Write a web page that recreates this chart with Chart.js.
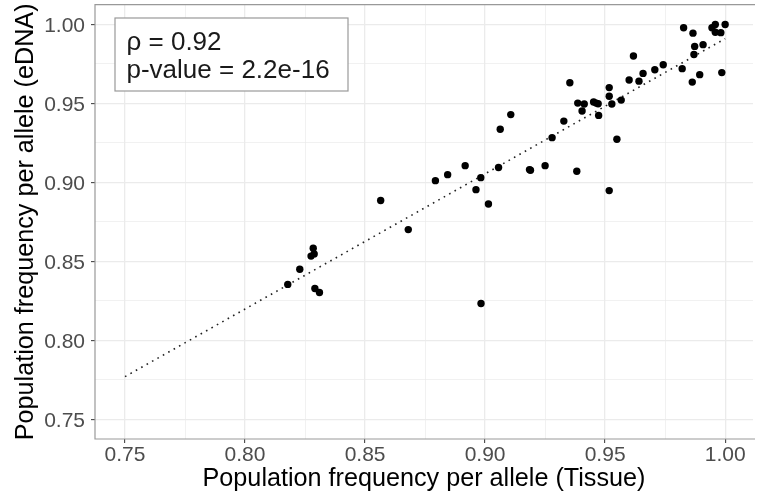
<!DOCTYPE html>
<html>
<head>
<meta charset="utf-8">
<script src="https://cdn.jsdelivr.net/npm/chart.js@4/dist/chart.umd.min.js"></script>
<style>
  html, body { margin: 0; padding: 0; background: #fff; overflow: hidden; }
  canvas { display: block; }
</style>
</head>
<body>
<canvas id="myChart" width="757" height="499"></canvas>
<script>
// allele frequencies
const tissueFreq = [0.8178, 0.8228, 0.8275, 0.8284, 0.8288, 0.8291, 0.8310, 0.8565, 0.8680, 0.8793,
  0.8844, 0.8917, 0.8962, 0.8982, 0.8983, 0.9014, 0.9056, 0.9063, 0.9107, 0.9185,
  0.9189, 0.9250, 0.9279, 0.9328, 0.9353, 0.9382, 0.9386, 0.9404, 0.9413, 0.9452,
  0.9463, 0.9471, 0.9473, 0.9517, 0.9517, 0.9528, 0.9517, 0.9549, 0.9567, 0.9600,
  0.9618, 0.9641, 0.9658, 0.9707, 0.9742, 0.9821, 0.9827, 0.9863, 0.9866, 0.9870,
  0.9873, 0.9894, 0.9908, 0.9945, 0.9959, 0.9959, 0.9982, 0.9986, 1.0000];
const ednaFreq = [0.8354, 0.8450, 0.8533, 0.8583, 0.8547, 0.8328, 0.8303, 0.8885, 0.8701, 0.9011,
  0.9049, 0.9106, 0.8954, 0.9030, 0.8233, 0.8863, 0.9094, 0.9336, 0.9429, 0.9081,
  0.9077, 0.9106, 0.9283, 0.9388, 0.9631, 0.9070, 0.9502, 0.9452, 0.9496, 0.9509,
  0.9502, 0.9498, 0.9424, 0.9600, 0.9545, 0.9496, 0.8948, 0.9273, 0.9521, 0.9648,
  0.9800, 0.9641, 0.9690, 0.9713, 0.9745, 0.9720, 0.9979, 0.9635, 0.9945, 0.9810,
  0.9861, 0.9682, 0.9872, 0.9979, 1.0000, 0.9951, 0.9948, 0.9695, 1.0000];

// dotted fit line ends
const fitX = [0.75, 1.00];
const fitY = [0.777, 0.991];

const majorTicks = [0.75, 0.80, 0.85, 0.90, 0.95, 1.00];
const minorTicks = [0.775, 0.825, 0.875, 0.925, 0.975];

const statLines = ['\u03c1 = 0.92', 'p-value = 2.2e-16'];

const FONT = '"Liberation Sans", Arial, Helvetica, sans-serif';

function isMajor(v) {
  return majorTicks.indexOf(v) >= 0;
}

function allTicks() {
  return majorTicks.concat(minorTicks).sort((a, b) => a - b).map(v => ({ value: v }));
}

function axisOptions(min, max, title) {
  return {
    type: 'linear',
    min: min,
    max: max,
    afterBuildTicks: s => { s.ticks = allTicks(); },
    ticks: {
      color: '#4D4D4D',
      font: { family: FONT, size: 21 },
      padding: 0,
      maxRotation: 0,
      autoSkip: false,
      callback: v => isMajor(v) ? v.toFixed(2) : ''
    },
    grid: {
      color: '#EBEBEB',
      lineWidth: c => (c.tick && isMajor(c.tick.value)) ? 1.3 : 0.7,
      tickColor: c => (c.tick && isMajor(c.tick.value)) ? '#333333' : 'rgba(0,0,0,0)',
      tickLength: 4,
      tickWidth: 1
    },
    border: { display: false },
    title: {
      display: true,
      text: title,
      color: '#000',
      font: { family: FONT, size: 25.2 }
    }
  };
}

// panel border + stat box
const panelPlugin = {
  id: 'panel',
  afterDraw(chart) {
    const ctx = chart.ctx;
    const a = chart.chartArea;
    ctx.save();
    ctx.strokeStyle = '#999999';
    ctx.lineWidth = 1.2;
    ctx.beginPath();
    ctx.moveTo(a.right + 2, a.top);
    ctx.lineTo(a.left, a.top);
    ctx.lineTo(a.left, a.bottom);
    ctx.lineTo(a.right + 2, a.bottom);
    ctx.stroke();

    ctx.fillStyle = '#fff';
    ctx.fillRect(115, 18, 233, 73);
    ctx.strokeStyle = '#999999';
    ctx.lineWidth = 1.2;
    ctx.strokeRect(115, 18, 233, 73);

    ctx.fillStyle = '#1A1A1A';
    ctx.font = '26px ' + FONT;
    ctx.textAlign = 'left';
    ctx.textBaseline = 'alphabetic';
    ctx.fillText(statLines[0], 126.5, 49.5);
    ctx.fillText(statLines[1], 126.5, 78);
    ctx.restore();
  }
};

function buildChart() {
  const points = tissueFreq.map((x, i) => ({ x: x, y: ednaFreq[i] }));
  const fit = fitX.map((x, i) => ({ x: x, y: fitY[i] }));

  const xAxis = axisOptions(0.7375, 1.0116, 'Population frequency per allele (Tissue)');
  xAxis.title.padding = { top: 0, bottom: 4.5 };
  xAxis.afterFit = s => { s.height = 60; s.paddingLeft = 0; s.paddingRight = 0; };

  const yAxis = axisOptions(0.7375, 1.0125, 'Population frequency per allele (eDNA)');
  yAxis.ticks.padding = 6;
  yAxis.ticks.labelOffset = 2;
  yAxis.title.padding = { top: 11, bottom: 0 };
  yAxis.afterFit = s => { s.width = 95; s.paddingTop = 0; s.paddingBottom = 0; };

  const ctx = document.getElementById('myChart').getContext('2d');
  new Chart(ctx, {
    type: 'scatter',
    data: {
      datasets: [
        {
          data: points,
          pointRadius: 3.7,
          pointBackgroundColor: '#000',
          pointBorderWidth: 0,
          order: 1
        },
        {
          type: 'line',
          data: fit,
          borderColor: '#222',
          borderWidth: 1.6,
          borderDash: [1.6, 4.6],
          pointRadius: 0,
          fill: false,
          order: 2
        }
      ]
    },
    options: {
      responsive: false,
      animation: false,
      layout: { padding: { top: 4.7, right: 0, bottom: 0, left: 0 } },
      plugins: { legend: { display: false }, tooltip: { enabled: false } },
      scales: { x: xAxis, y: yAxis }
    },
    plugins: [panelPlugin]
  });
}

buildChart();
</script>
</body>
</html>
